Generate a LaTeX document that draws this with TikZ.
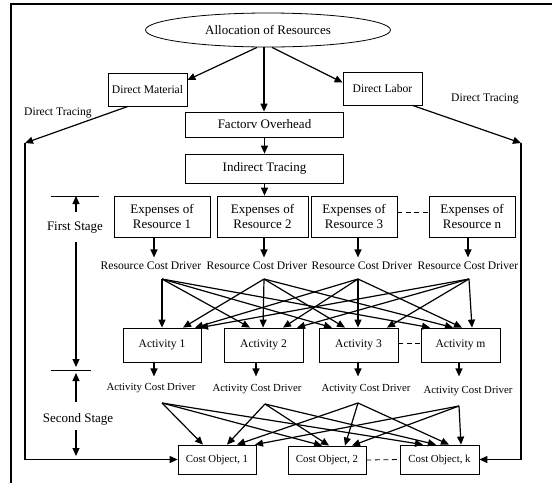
\documentclass[tikz,border=0pt]{standalone}
\usepackage{fontspec}
\setmainfont{Liberation Serif}
\usetikzlibrary{arrows.meta,shapes.geometric}
\begin{document}
\begin{tikzpicture}[x=1pt,y=-1pt,
  box/.style={draw,line width=0.8pt,inner sep=0pt,align=center},
  arr/.style={-{Triangle[length=8pt,width=7pt]},line width=1.2pt},
  ln/.style={line width=1.2pt},
  dsh/.style={line width=0.8pt,dash pattern=on 5pt off 3.5pt},
  lbl/.style={inner sep=0pt,align=center},
  big/.style={font=\fontsize{13}{15}\selectfont},
  mid/.style={font=\fontsize{11.6}{13.5}\selectfont},
  sml/.style={font=\fontsize{10.8}{12.5}\selectfont}]
\useasboundingbox (0,0) rectangle (552,483);
\draw[line width=2pt] (552,4) -- (11,4) -- (11,483);

% top
\node[draw,ellipse,line width=0.8pt,minimum width=245pt,minimum height=34pt,inner sep=0pt,big] (alloc) at (268,30) {Allocation of Resources};
\node[box,mid,minimum width=79pt,minimum height=33pt] (dm) at (147.5,89.5) {Direct Material};
\node[box,mid,minimum width=79pt,minimum height=33pt] (dl) at (382.5,88.5) {Direct Labor};
\node[box,big,minimum width=158pt,minimum height=25pt] (fo) at (264.5,124.5) {Factorv Overhead};
\node[box,big,minimum width=158pt,minimum height=29pt] (it) at (264.5,168.5) {Indirect Tracing};

\draw[arr] ([xshift=-11pt]alloc.south) -- ([yshift=9.5pt]dm.east);
\draw[arr] ([xshift=-4pt]alloc.south) -- (fo.north -| 264,0);
\draw[arr] ([xshift=4pt]alloc.south) -- ([yshift=6pt]dl.west);
\draw[arr] (fo.south) -- (it.north);

% direct tracing
\node[lbl,mid] (dtl) at (58,113) {Direct Tracing};
\node[lbl,mid] (dtr) at (485,99) {Direct Tracing};
\coordinate (lt) at (25,143);
\coordinate (rt) at (521,143);

% resources
\node[box,big,minimum width=96pt,minimum height=41pt] (r1) at (162,216.5) {Expenses of\\Resource 1};
\node[box,big,minimum width=91pt,minimum height=41pt] (r2) at (262.5,216.5) {Expenses of\\Resource 2};
\node[box,big,minimum width=86pt,minimum height=41pt] (r3) at (354,216.5) {Expenses of\\Resource 3};
\node[box,big,minimum width=86pt,minimum height=41pt] (rn) at (472,216.5) {Expenses of\\Resource n};
\draw[dsh] ([yshift=4.5pt]r3.east) -- ([yshift=4.5pt]rn.west);
\draw[arr] (it.south) -- (it.south |- r2.north);

\node[lbl,mid] (d1) at (151,266) {Resource Cost Driver};
\node[lbl,mid] (d2) at (257,266) {Resource Cost Driver};
\node[lbl,mid] (d3) at (362,266) {Resource Cost Driver};
\node[lbl,mid] (dn) at (468,266) {Resource Cost Driver};
\draw[arr] ([xshift=-8pt]r1.south) -- ++(0,20);
\draw[arr] ([xshift=1.5pt]r2.south) -- ++(0,20);
\draw[arr] ([xshift=4pt]r3.south) -- ++(0,20);
\draw[arr] ([xshift=-4pt]rn.south) -- ++(0,20);

\coordinate (f1) at (162,279);
\coordinate (f2) at (264,279);
\coordinate (f3) at (358,279);
\coordinate (fn) at (469,279);

% activities
\node[box,mid,minimum width=78pt,minimum height=34pt] (a1) at (162,345) {Activity 1};
\node[box,mid,minimum width=79pt,minimum height=34pt] (a2) at (263.5,345) {Activity 2};
\node[box,mid,minimum width=79pt,minimum height=34pt] (a3) at (358.5,345) {Activity 3};
\node[box,mid,minimum width=79pt,minimum height=34pt] (am) at (460.5,345) {Activity m};
\draw[dsh] ([yshift=2pt]a3.east) -- ([yshift=2pt]am.west);

\draw[arr] (f1) -- (a1.north);
\draw[arr] (f1) -- ([xshift=-13.5pt]a2.north);
\draw[arr] (f1) -- ([xshift=-26.5pt]a3.north);
\draw[arr] (f1) -- ([xshift=-30.5pt]am.north);
\draw[arr] (f2) -- ([xshift=21pt]a1.north);
\draw[arr] (f2) -- ([xshift=-0.5pt]a2.north);
\draw[arr] (f2) -- ([xshift=-13.5pt]a3.north);
\draw[arr] (f2) -- ([xshift=-7.5pt]am.north);
\draw[arr] (f3) -- ([xshift=33pt]a1.north);
\draw[arr] (f3) -- ([xshift=19.5pt]a2.north);
\draw[arr] (f3) -- ([xshift=-0.5pt]a3.north);
\draw[arr] (f3) -- ([xshift=1.5pt]am.north);
\draw[arr] (fn) -- ([xshift=38pt]a1.north);
\draw[arr] (fn) -- ([xshift=33.5pt]a2.north);
\draw[arr] (fn) -- ([xshift=28.5pt]a3.north);
\draw[arr] (fn) -- ([xshift=11.5pt]am.north);

% activity cost drivers
\node[lbl,sml] (c1) at (151,388) {Activity Cost Driver};
\node[lbl,sml] (c2) at (257,389) {Activity Cost Driver};
\node[lbl,sml] (c3) at (366,389) {Activity Cost Driver};
\node[lbl,sml] (cm) at (468,391) {Activity Cost Driver};
\draw[arr] ([xshift=-8pt]a1.south) -- ++(0,14);
\draw[arr] ([xshift=-7.5pt]a2.south) -- ++(0,14);
\draw[arr] ([xshift=-0.5pt]a3.south) -- ++(0,14);
\draw[arr] ([xshift=-1.5pt]am.south) -- ++(0,14);

\coordinate (g1) at (162,403);
\coordinate (g2) at (265,404);
\coordinate (g3) at (358,403);
\coordinate (gm) at (459,406);

% cost objects
\node[box,sml,minimum width=78pt,minimum height=29pt] (o1) at (217,459.5) {Cost Object, 1};
\node[box,sml,minimum width=78pt,minimum height=28pt] (o2) at (327,460) {Cost Object, 2};
\node[box,sml,minimum width=79pt,minimum height=29pt] (ok) at (439.5,459.5) {Cost Object, k};
\draw[dsh] (o2.east) -- (ok.west);

\draw[arr] (g1) -- ([xshift=-14pt]o1.north);
\draw[arr] (g1) -- ([xshift=-5pt]o2.north);
\draw[arr] (g1) -- ([xshift=-16.5pt]ok.north);
\draw[arr] (g2) -- ([xshift=10pt]o1.north);
\draw[arr] (g2) -- ([xshift=2pt]o2.north);
\draw[arr] (g2) -- ([xshift=-3.5pt]ok.north);
\draw[arr] (g3) -- ([xshift=20pt]o1.north);
\draw[arr] (g3) -- ([xshift=18pt]o2.north);
\draw[arr] (g3) -- ([xshift=9.5pt]ok.north);
\draw[arr] (gm) -- ([xshift=38pt]o1.north);
\draw[arr] (gm) -- ([xshift=25pt]o2.north);
\draw[arr] (gm) -- ([xshift=21.5pt]ok.north);

% direct tracing paths
\draw[arr] ([xshift=-19.5pt]dm.south) -- (lt);
\draw[arr] (lt) |- (o1.west);
\draw[arr] ([xshift=30pt]dl.south) -- (rt);
\draw[arr] (rt) |- (ok.east);

% stages
\node[lbl,big] (s1) at (75,228) {First Stage};
\node[lbl,big] (s2) at (78,419) {Second Stage};
\coordinate (k1) at (76,196);
\coordinate (k2) at (76,370);
\draw[line width=1pt] (51,196) -- (99,196);
\draw[line width=1pt] (51,370) -- (91,370);
\draw[arr] (76,212) -- (k1);
\draw[arr] (76,242) -- ([yshift=3pt]k2);
\draw[arr] (76,402) -- ([yshift=-3pt]k2);
\draw[arr] (76,430) -- (76,456);
\end{tikzpicture}
\end{document}
